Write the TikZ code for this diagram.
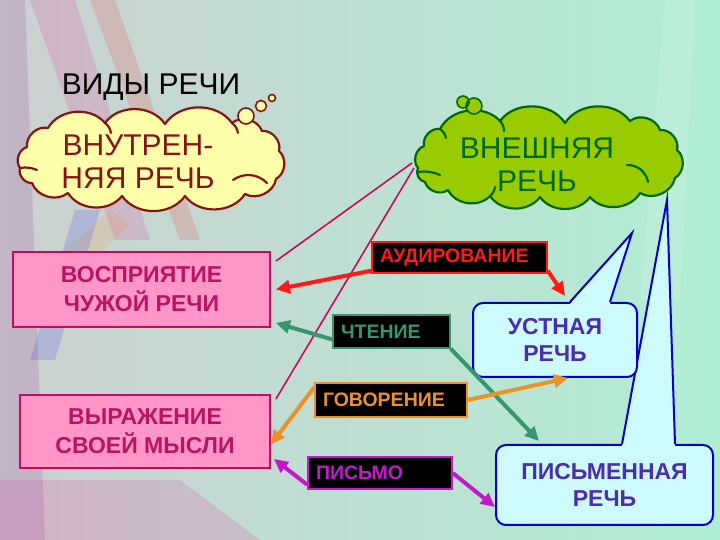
\documentclass[tikz,border=0pt]{standalone}
\usepackage{fontspec}
\setmainfont{Liberation Sans}
\usepackage{tikz}
\usetikzlibrary{arrows.meta}

\definecolor{bgleft}{RGB}{204,208,208}
\definecolor{bgright}{RGB}{176,238,212}
\definecolor{creamfill}{RGB}{255,255,170}
\definecolor{cloudred}{RGB}{135,20,20}
\definecolor{leafgreen}{RGB}{153,204,0}
\definecolor{darkgreen}{RGB}{0,105,0}
\definecolor{pinkfill}{RGB}{255,150,200}
\definecolor{crimson}{RGB}{200,10,95}
\definecolor{pinktext}{RGB}{185,20,100}
\definecolor{audred}{RGB}{255,25,25}
\definecolor{readgreen}{RGB}{55,150,110}
\definecolor{speakorange}{RGB}{235,145,40}
\definecolor{writemagenta}{RGB}{195,25,205}
\definecolor{bubblefill}{RGB}{205,250,250}
\definecolor{bubbleblue}{RGB}{0,0,200}
\definecolor{bubbletext}{RGB}{75,45,175}

\begin{document}
\begin{tikzpicture}[x=1pt, y=1pt,
  puff/.style={bend left=55},
  thought/.style 2 args={fill=#1, draw=#2, line width=2.2pt, line join=round},
  fold/.style={draw=#1, line width=2.2pt, line cap=round},
  thoughttext/.style={text=#1, align=center, font=\fontsize{30}{33}\selectfont},
  kindbox/.style={fill=pinkfill, draw=crimson, line width=1.8pt, text=pinktext, align=center,
    inner sep=0pt, font=\bfseries\fontsize{23}{29}\selectfont},
  wordbox/.style={fill=black, draw=#1, text=#1, line width=1.5pt, align=left,
    inner xsep=8pt, inner ysep=0pt, font=\bfseries\fontsize{19.5}{22}\selectfont},
  speechbox/.style={fill=bubblefill, draw=bubbleblue, line width=2pt, rounded corners=10pt,
    text=bubbletext, align=center, inner sep=0pt, font=\bfseries\fontsize{23}{27}\selectfont},
  pointer/.style={line width=4pt, draw=#1, -{Triangle[length=14pt, width=13pt]}},
  link/.style={draw=crimson, line width=1.6pt},
  streak/.style={fill=#1, opacity=0.13}
]
\useasboundingbox (0,0) rectangle (720,540);

% background
\shade[left color=bgleft, right color=bgright] (0,0) rectangle (720,540);
\fill[streak=violet] (0,0) -- (0,540) -- (25,540) -- (45,0) -- cycle;
\fill[streak=magenta] (30,540) -- (75,540) -- (150,300) -- (115,300) -- cycle;
\fill[streak=red] (90,540) -- (115,540) -- (200,300) -- (180,300) -- cycle;
\fill[streak=orange] (20,250) -- (110,330) -- (130,315) -- (45,235) -- cycle;
\fill[streak=blue] (30,180) -- (75,330) -- (100,330) -- (55,180) -- cycle;
\fill[streak=magenta] (0,0) -- (0,60) -- (180,60) -- (260,0) -- cycle;
\fill[streak=white] (640,240) -- (665,540) -- (695,540) -- (680,240) -- cycle;

% title
\node[anchor=base, font=\fontsize{30}{33}\selectfont] (title) at (151,445) {ВИДЫ РЕЧИ};

% two clouds
\draw[thought={creamfill}{cloudred}] (20,372) to[puff] (27,393) to[puff] (48,412) to[puff] (105,417)
  to[puff] (165,416) to[puff] (232,417) to[puff] (262,409) to[puff] (279,389) to[puff] (276,361)
  to[puff] (245,346) to[puff] (185,344) to[puff] (122,344) to[puff] (68,347) to[puff] (32,357)
  to[puff] cycle;
\draw[fold=cloudred] (105,417) to[bend left=20] (111,407) (232,417) to[bend left=20] (238,407)
  (20,372) to[bend left=15] (37,370) (233,360) to[bend left=40] (267,357);
\draw[thought={leafgreen}{darkgreen}] (418,372) to[puff] (424,394) to[puff] (440,411) to[puff] (500,419)
  to[puff] (565,417) to[puff] (630,419) to[puff] (660,410) to[puff] (677,390) to[puff] (675,362)
  to[puff] (640,347) to[puff] (590,343) to[puff] (540,343) to[puff] (490,344) to[puff] (448,350)
  to[puff] (425,358) to[puff] cycle;
\draw[fold=darkgreen] (440,411) to[bend left=20] (446,402) (500,419) to[bend left=20] (504,409)
  (418,368) to[bend left=15] (440,365) (627,375) to[bend left=40] (648,358) (490,344) to[bend right=20] (495,353);
\draw[cloudred, fill=creamfill, line width=1.6pt] (246,424) circle (8) (261,434) circle (5.5) (272,442) circle (3.5);
\draw[darkgreen, fill=leafgreen, line width=1.6pt] (474,434) circle (8) (463,438) circle (6);
\node[thoughttext=cloudred] (vnutr) at (138,378) {ВНУТРЕН-\\НЯЯ РЕЧЬ};
\node[thoughttext=darkgreen] (vnesh) at (537,375) {ВНЕШНЯЯ\\РЕЧЬ};
\coordinate (vneshedge) at (412,377);

% what speech does
\node[kindbox, minimum width=257pt, minimum height=75pt] (vosp) at (141.5,250.5) {ВОСПРИЯТИЕ\\ЧУЖОЙ РЕЧИ};
\node[kindbox, minimum width=250pt, minimum height=73pt] (vyraz) at (145,108.5) {ВЫРАЖЕНИЕ\\СВОЕЙ МЫСЛИ};

\draw[link] (vneshedge) -- ([xshift=5pt,yshift=-10pt]vosp.north east);
\draw[link] ([xshift=2pt,yshift=-5pt]vneshedge) -- ([xshift=5pt,yshift=-5pt]vyraz.north east);

% kinds of speech activity
\node[wordbox=audred, text width=159pt, minimum height=31pt] (audir) at (459.5,282.5) {АУДИРОВАНИЕ};
\node[wordbox=readgreen, text width=101pt, minimum height=33pt] (chten) at (391.5,208.5) {ЧТЕНИЕ};
\node[wordbox=speakorange, text width=136pt, minimum height=34pt] (govor) at (391,140) {ГОВОРЕНИЕ};
\node[wordbox=writemagenta, text width=128pt, minimum height=32pt] (pismo) at (380,67) {ПИСЬМО};

% callouts
\coordinate (pistip) at (667,340);
\coordinate (ustip) at (632,307);
\node[speechbox, minimum width=217pt, minimum height=80pt] (pismen) at (604.5,55) {ПИСЬМЕННАЯ\\РЕЧЬ};
\fill[bubblefill] ([xshift=17.5pt,yshift=-2pt]pismen.north) -- (pistip) -- ([xshift=70.5pt,yshift=-2pt]pismen.north) -- cycle;
\draw[bubbleblue, line width=2pt] ([xshift=17.5pt]pismen.north) -- (pistip) -- ([xshift=70.5pt]pismen.north);
\node[speechbox, minimum width=164pt, minimum height=74pt] (ustnaya) at (555,200) {УСТНАЯ\\РЕЧЬ};
\fill[bubblefill] ([xshift=15pt,yshift=-2pt]ustnaya.north) -- (ustip) -- ([xshift=55pt,yshift=-2pt]ustnaya.north) -- cycle;
\draw[bubbleblue, line width=2pt] ([xshift=15pt]ustnaya.north) -- (ustip) -- ([xshift=55pt]ustnaya.north);

% arrows
\draw[pointer=audred] ([yshift=3pt]audir.south west) -- ([xshift=5pt]vosp.east);
\draw[pointer=audred] ([yshift=3pt]audir.south east) -- ([xshift=10pt,yshift=6pt]ustnaya.north);
\draw[pointer=readgreen] ([yshift=-8pt]chten.west) -- ([xshift=5pt,yshift=5pt]vosp.south east);
\draw[pointer=readgreen] (chten.south east) -- ([xshift=44pt,yshift=3pt]pismen.north west);
\draw[pointer=speakorange] ([yshift=-5pt]govor.north west) -- ([yshift=-13pt]vyraz.east);
\draw[pointer=speakorange] (govor.east) -- ([xshift=13pt]ustnaya.south);
\draw[pointer=writemagenta] ([yshift=5pt]pismo.south west) -- ([xshift=3pt,yshift=10pt]vyraz.south east);
\draw[pointer=writemagenta] (pismo.east) -- ([yshift=-22pt]pismen.west);
\end{tikzpicture}
\end{document}
